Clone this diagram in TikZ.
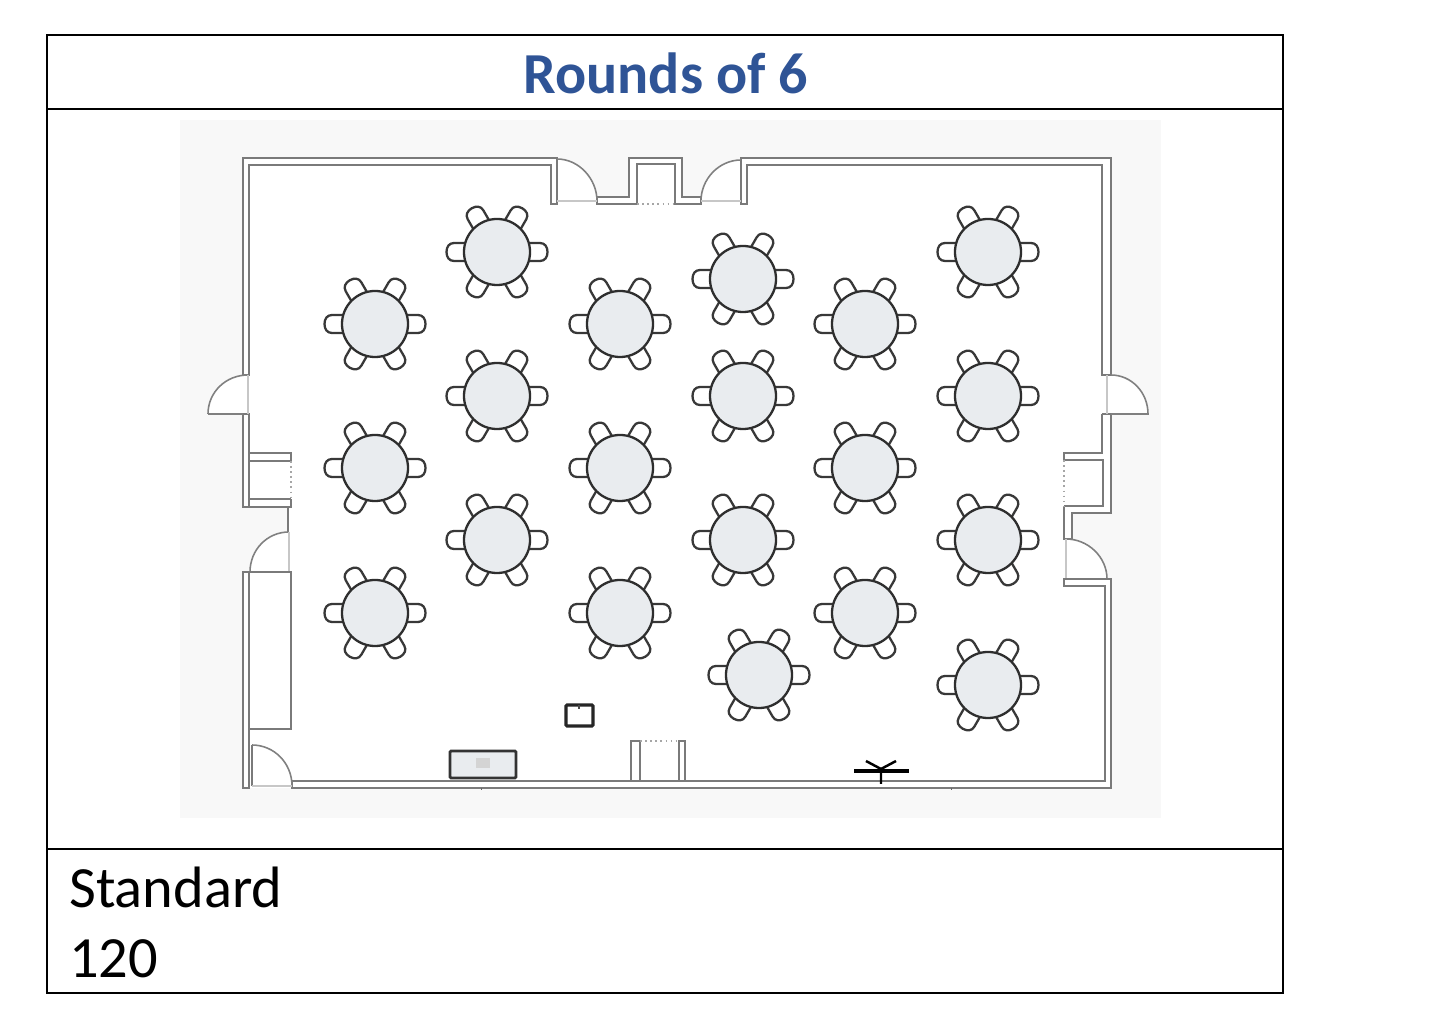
\documentclass[tikz,border=0pt]{standalone}
\usepackage{fontspec}
\setmainfont{Carlito}
\definecolor{titleblue}{HTML}{2F5496}
\definecolor{tablefill}{HTML}{E9ECEF}
\definecolor{planbg}{HTML}{F8F8F8}
\tikzset{
    wall/.style={draw=black!52, line width=0.55pt, line join=miter},
    sill/.style={draw=black!22, line width=0.4pt},
    gap/.style={draw=black!35, line width=0.45pt, densely dotted},
    swing/.style={draw=black!50, line width=0.45pt},
    chair/.style={draw=black!78, line width=0.65pt, fill=white},
    roundtable/.style={circle, draw=black!82, line width=0.65pt, fill=tablefill, minimum size=0.66cm, inner sep=0pt},
    caption/.style={anchor=base west, inner sep=0pt, font=\fontsize{16.6}{20}\selectfont},
}
\begin{document}
\begin{tikzpicture}[x=0.01cm, y=-0.01cm]
    \useasboundingbox (0, 0) rectangle (1445, 1025);
    \fill[planbg] (180, 120) rectangle (1161, 818);

    % room, door swings included
    \fill[white] (243, 158) -- (557, 158) .. controls (579, 159) and (597, 179) .. (597, 201) -- (597, 197) -- (629, 197)
        -- (629, 158) -- (682, 158) -- (682, 197) -- (701, 197) -- (701, 201) .. controls (701, 179) and (719, 160) .. (741, 160)
        -- (741, 158) -- (1111, 158) -- (1111, 375) .. controls (1131, 375) and (1148, 392) .. (1148, 414) -- (1111, 414)
        -- (1111, 513) -- (1072, 513) -- (1072, 539) -- (1066, 539) .. controls (1088, 539) and (1107, 557) .. (1107, 579)
        -- (1111, 579) -- (1111, 788) -- (292, 788) -- (243, 788) -- (243, 572) -- (250, 572)
        .. controls (250, 550) and (267, 532) .. (289, 532) -- (287, 507) -- (243, 507) -- (243, 414) -- (208, 414)
        .. controls (208, 392) and (226, 375) .. (248, 375) -- (243, 375) -- cycle;

    % top wall with the two doors
    \draw[wall] (243, 375) -- (243, 158) -- (557, 158) -- (557, 204) -- (551, 204) -- (551, 165) -- (249, 165) -- (249, 375) -- cycle;
    \draw[wall] (597, 204) -- (597, 197) -- (629, 197) -- (629, 158) -- (682, 158) -- (682, 197) -- (701, 197) -- (701, 204)
        -- (675, 204) -- (675, 164) -- (637, 164) -- (637, 204) -- cycle;
    \draw[white, line width=0.7pt] (638, 204) -- (674, 204);
    \draw[gap] (637, 204) -- (675, 204);
    \draw[wall] (741, 204) -- (741, 158) -- (1111, 158) -- (1111, 375) -- (1102, 375) -- (1102, 165) -- (747, 165) -- (747, 204) -- cycle;
    \draw[swing] (557, 159) .. controls (579, 159) and (597, 179) .. (597, 201);
    \draw[swing] (701, 201) .. controls (701, 179) and (719, 160) .. (741, 160);
    \draw[sill] (557, 201) -- (597, 201) (701, 201) -- (741, 201);

    % right wall
    \draw[wall] (1102, 414) -- (1111, 414) -- (1111, 513) -- (1072, 513) -- (1072, 539) -- (1064, 539) -- (1064, 506);
    \draw[wall] (1064, 460) -- (1064, 453) -- (1102, 453) -- (1102, 414);
    \draw[wall] (1064, 460) -- (1103, 460) -- (1103, 506) -- (1064, 506);
    \draw[gap] (1064, 460) -- (1064, 506);
    \draw[swing] (1111, 375) .. controls (1131, 375) and (1148, 392) .. (1148, 414) -- (1111, 414);
    \draw[sill] (1107, 375) -- (1107, 414);
    \draw[swing] (1066, 539) .. controls (1088, 539) and (1107, 557) .. (1107, 579);
    \draw[sill] (1066, 539) -- (1066, 579);
    \draw[wall] (1064, 579) -- (1111, 579) -- (1111, 788) -- (292, 788) -- (292, 781) -- (1105, 781) -- (1105, 586) -- (1064, 586) -- cycle;

    % left wall
    \draw[wall] (291, 461) -- (291, 453) -- (249, 453) -- (249, 414) -- (243, 414) -- (243, 507) -- (291, 507) -- (291, 499);
    \draw[wall] (249, 461) -- (291, 461) (249, 499) -- (291, 499) (249, 453) -- (249, 507);
    \draw[gap] (291, 461) -- (291, 499);
    \draw[wall] (288, 507) -- (288, 532);
    \draw[swing] (208, 414) .. controls (208, 392) and (226, 375) .. (248, 375);
    \draw[swing] (208, 414) -- (243, 414);
    \draw[sill] (248, 375) -- (248, 414);
    \draw[swing] (289, 532) .. controls (267, 532) and (250, 550) .. (250, 572);
    \draw[sill] (289, 532) -- (289, 572);
    \draw[wall] (243, 572) rectangle (249, 788);
    \draw[wall] (249, 572) -- (291, 572) -- (291, 729) -- (249, 729);
    \draw[wall] (252, 745) -- (252, 786);
    \draw[swing] (252, 745) .. controls (274, 745) and (292, 763) .. (292, 786);
    \draw[sill] (252, 786) -- (292, 786);

    % bottom wall fittings
    \draw[wall] (631, 781) -- (631, 741) -- (640, 741) -- (640, 781);
    \draw[wall] (679, 781) -- (679, 741) -- (685, 741) -- (685, 781);
    \draw[gap] (640, 741) -- (679, 741);
    \draw[black!60, line width=0.25pt] (481, 788) -- (481, 790) (951, 788) -- (951, 790);

    % lectern, screen and tripod
    \draw[draw=black!80, line width=0.8pt, fill=tablefill, rounded corners=0.3pt] (450, 751) rectangle (516, 778);
    \fill[black!17] (476, 758) rectangle (490, 768);
    \draw[draw=black!85, line width=0.9pt, rounded corners=0.3pt] (566, 705) rectangle (593, 726);
    \draw[black!70, line width=0.6pt] (579, 705) -- (579, 709);
    \draw[line width=1.1pt] (854, 771) -- (909, 771);
    \draw[line width=0.7pt] (881, 771) -- (881, 784) (881, 769) -- (866, 761) (881, 769) -- (896, 761);

    % tables
    \foreach \x/\y in {375/324, 375/468, 375/613, 497/252, 497/396, 497/540, 620/324, 620/468, 620/613,
        743/279, 743/396, 743/540, 759/675, 865/324, 865/468, 865/613, 988/252, 988/396, 988/540, 988/685} {
        \foreach \a in {0, 60, ..., 300} {
            \draw[chair, shift={(\x, \y)}, rotate=\a] (25, -9) -- (43, -9) .. controls (48, -9) and (50.5, -5) .. (50.5, 0)
                .. controls (50.5, 5) and (48, 9) .. (43, 9) -- (25, 9) -- cycle;
        }
        \node[roundtable] (table-\x-\y) at (\x, \y) {};
    }

    % frame
    \draw[line width=0.5pt] (47, 35) rectangle (1283, 993);
    \draw[line width=0.5pt] (47, 109) -- (1283, 109);
    \draw[line width=0.5pt] (47, 849) -- (1283, 849);
    \node[text=titleblue, inner sep=0pt, font=\fontsize{16.5}{20}\selectfont\bfseries] (title) at (666, 73) {Rounds of 6};
    \node[caption] (layout) at (68.5, 907.5) {Standard};
    \node[caption] (seats) at (68.5, 977.5) {120};
\end{tikzpicture}
\end{document}
